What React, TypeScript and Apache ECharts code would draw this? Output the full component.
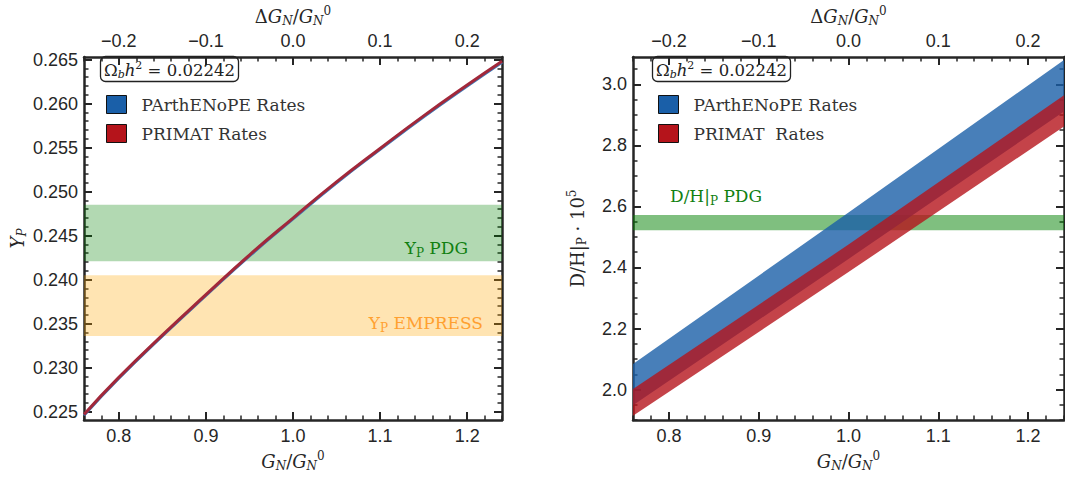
import React, { useEffect, useRef } from 'react';
import * as echarts from 'echarts';

// ---------- data ----------
const gRatio = [0.76, 0.8, 0.85, 0.9, 0.95, 1.0, 1.05, 1.1, 1.15, 1.2, 1.24];
const ypPrimat = [0.2247, 0.2289, 0.2337, 0.2383, 0.2428, 0.247, 0.2511, 0.2549, 0.2586, 0.2621, 0.2648];
const ypParthenope = [0.2246, 0.2288, 0.2336, 0.2382, 0.2427, 0.2469, 0.251, 0.2548, 0.2585, 0.262, 0.2647];

const ypPdgBand = [0.2421, 0.2485];
const ypEmpressBand = [0.2336, 0.2405];
const dhPdgBand = [2.522, 2.572];

const gBand = [0.76, 1.0, 1.24];
const dhParthLow = [1.949, 2.428, 2.911];
const dhParthHigh = [2.084, 2.58, 3.08];
const dhPrimatLow = [1.914, 2.385, 2.862];
const dhPrimatHigh = [2.002, 2.475, 2.964];

const xTicks = [0.8, 0.9, 1.0, 1.1, 1.2];
const xTickLabels = ['0.8', '0.9', '1.0', '1.1', '1.2'];
const dTicks = [-0.2, -0.1, 0, 0.1, 0.2];
const dTickLabels = ['\u22120.2', '\u22120.1', '0.0', '0.1', '0.2'];
const ypTicks = [0.225, 0.23, 0.235, 0.24, 0.245, 0.25, 0.255, 0.26, 0.265];
const ypTickLabels = ['0.225', '0.230', '0.235', '0.240', '0.245', '0.250', '0.255', '0.260', '0.265'];
const dhTicks = [2.0, 2.2, 2.4, 2.6, 2.8, 3.0];
const dhTickLabels = ['2.0', '2.2', '2.4', '2.6', '2.8', '3.0'];

const omegaText = '0.02242';

// ---------- styling ----------
const AX = '#262626';
const SANS = "'Liberation Sans', Arial, sans-serif";
const SERIF = "'DejaVu Serif', serif";
const BLUE_SOLID = '#1a5fa8';
const RED_SOLID = '#b5141b';
const GREEN_TXT = '#118011';
const ORANGE_TXT = '#ffa030';

function steps(from: number, to: number, step: number): number[] {
  const out: number[] = [];
  const n = Math.round((to - from) / step);
  for (let i = 0; i <= n; i++) out.push(Number((from + i * step).toFixed(6)));
  return out;
}

const labelFor = (ticks: number[], labels: string[]) => (v: number) => {
  const i = ticks.findIndex((t) => Math.abs(t - v) < 1e-7);
  return i >= 0 ? labels[i] : '';
};

const mathRich = (size: number, color: string) => {
  const small = Math.round(size * 0.68);
  return {
    i: { fontFamily: SERIF, fontStyle: 'italic', fontWeight: 'normal', fontSize: size, color, lineHeight: 22 },
    r: { fontFamily: SERIF, fontWeight: 'normal', fontSize: size, color, lineHeight: 22 },
    s: { fontFamily: SERIF, fontStyle: 'italic', fontWeight: 'normal', fontSize: small, color, lineHeight: 12, verticalAlign: 'bottom' },
    su: { fontFamily: SERIF, fontWeight: 'normal', fontSize: small, color, lineHeight: 12, verticalAlign: 'bottom' },
    p: { fontFamily: SERIF, fontWeight: 'normal', fontSize: small, color, lineHeight: 12, verticalAlign: 'top' },
  };
};

const G_NAME = '{i|G}{s|N}{r|/}{i|G}{s|N}{p|0}';
const DG_NAME = '{r|\u0394}{i|G}{s|N}{r|/}{i|G}{s|N}{p|0}';
const YP_NAME = '{i|Y}{s|P}';
const DH_NAME = '{r|D/H|}{su|P}{r| \u00b7 10}{p|5}';

function xPair(grid: number, pos: string, min: number, max: number, ticks: number[], labels: string[], minor: number[], name: string, nameGap: number) {
  return [
    {
      type: 'value', gridIndex: grid, position: pos, min, max,
      name, nameLocation: 'middle', nameGap,
      nameTextStyle: { rich: mathRich(18, AX) },
      axisLine: { show: true, onZero: false, lineStyle: { color: AX, width: 2.5 } },
      axisTick: { show: true, inside: true, length: 8, lineStyle: { color: AX, width: 2 }, customValues: ticks },
      axisLabel: { show: true, customValues: ticks, formatter: labelFor(ticks, labels), margin: 7, color: AX, fontFamily: SANS, fontSize: 18 },
      splitLine: { show: false },
    },
    {
      type: 'value', gridIndex: grid, position: pos, min, max,
      axisLine: { show: false, onZero: false },
      axisTick: { show: true, inside: true, length: 4.5, lineStyle: { color: AX, width: 1.5 }, customValues: minor },
      axisLabel: { show: false },
      splitLine: { show: false },
    },
  ];
}

function yPair(grid: number, pos: string, min: number, max: number, ticks: number[], labels: string[] | null, minor: number[], name: string, nameGap: number) {
  return [
    {
      type: 'value', gridIndex: grid, position: pos, min, max,
      name, nameLocation: 'middle', nameGap,
      nameTextStyle: { rich: mathRich(18, AX) },
      axisLine: { show: true, onZero: false, lineStyle: { color: AX, width: 2.5 } },
      axisTick: { show: true, inside: true, length: 8, lineStyle: { color: AX, width: 2 }, customValues: ticks },
      axisLabel: labels
        ? { show: true, customValues: ticks, formatter: labelFor(ticks, labels), margin: 6, color: AX, fontFamily: SANS, fontSize: 18 }
        : { show: false },
      splitLine: { show: false },
    },
    {
      type: 'value', gridIndex: grid, position: pos, min, max,
      axisLine: { show: false, onZero: false },
      axisTick: { show: true, inside: true, length: 4.5, lineStyle: { color: AX, width: 1.5 }, customValues: minor },
      axisLabel: { show: false },
      splitLine: { show: false },
    },
  ];
}

const bandRender = (lo: number[], hi: number[], fill: string) => (_params: any, api: any) => {
  const top = gBand.map((x, i) => api.coord([x, hi[i]]));
  const bot = gBand.map((x, i) => api.coord([x, lo[i]])).reverse();
  return { type: 'polygon', shape: { points: top.concat(bot) }, style: { fill }, silent: true };
};

const legendText = { fontFamily: SERIF, fontSize: 17, color: '#333', padding: [0, 0, 0, 10] };

const boxTitle = (left: number) => ({
  text: '{o|\u03a9}{s|b}{i|h}{p|2}{o| = ' + omegaText + '}',
  left, top: 56,
  borderColor: '#222', borderWidth: 1.3, borderRadius: 5,
  padding: [4, 4, 2, 4],
  textStyle: {
    fontWeight: 'normal',
    rich: {
      o: { fontFamily: SERIF, fontWeight: 'normal', fontSize: 16.5, color: '#222', lineHeight: 20 },
      i: { fontFamily: SERIF, fontStyle: 'italic', fontWeight: 'normal', fontSize: 16.5, color: '#222', lineHeight: 20 },
      s: { fontFamily: SERIF, fontStyle: 'italic', fontWeight: 'normal', fontSize: 11, color: '#222', lineHeight: 11, verticalAlign: 'bottom' },
      p: { fontFamily: SERIF, fontWeight: 'normal', fontSize: 11, color: '#222', lineHeight: 11, verticalAlign: 'top' },
    },
  },
});

function buildOption() {
  const minorG = steps(0.76, 1.24, 0.02);
  const minorD = steps(-0.24, 0.24, 0.02);
  const minorYp = steps(0.225, 0.265, 0.001);
  const minorDh = steps(1.9, 3.05, 0.05);

  const xAxis = [
    ...xPair(0, 'bottom', 0.76, 1.24, xTicks, xTickLabels, minorG, G_NAME, 28),
    ...xPair(0, 'top', -0.24, 0.24, dTicks, dTickLabels, minorD, DG_NAME, 22),
    ...xPair(1, 'bottom', 0.76, 1.24, xTicks, xTickLabels, minorG, G_NAME, 28),
    ...xPair(1, 'top', -0.24, 0.24, dTicks, dTickLabels, minorD, DG_NAME, 22),
  ];
  const yAxis = [
    ...yPair(0, 'left', 0.22405, 0.2653, ypTicks, ypTickLabels, minorYp, YP_NAME, 56),
    ...yPair(0, 'right', 0.22405, 0.2653, ypTicks, null, minorYp, '', 0),
    ...yPair(1, 'left', 1.9, 3.09, dhTicks, dhTickLabels, minorDh, DH_NAME, 45),
    ...yPair(1, 'right', 1.9, 3.09, dhTicks, null, minorDh, '', 0),
  ];

  const ypPdgLabel = {
    show: true, position: 'insideBottomRight', offset: [-29, 3],
    formatter: '{r|Y}{su|P}{r| PDG}', rich: mathRich(17, GREEN_TXT),
  };
  const ypEmpLabel = {
    show: true, position: 'insideBottomRight', offset: [-14, 3],
    formatter: '{r|Y}{su|P}{r| EMPRESS}', rich: mathRich(17, ORANGE_TXT),
  };
  const dhPdgLabel = {
    show: true, position: [37, -8], align: 'left', verticalAlign: 'bottom',
    formatter: '{r|D/H|}{su|P}{r| PDG}', rich: mathRich(17, GREEN_TXT),
  };

  return {
    animation: false,
    backgroundColor: '#ffffff',
    grid: [
      { left: 84, top: 45, width: 418, height: 377 },
      { left: 633, top: 45, width: 431, height: 377 },
    ],
    title: [boxTitle(100), boxTitle(652)],
    legend: [
      {
        left: 101, top: 90, orient: 'vertical', icon: 'rect', itemWidth: 20, itemHeight: 18, itemGap: 10,
        selectedMode: false, textStyle: legendText,
        data: [
          { name: 'PArthENoPE Rates', itemStyle: { color: BLUE_SOLID, borderColor: '#111', borderWidth: 1 } },
          { name: 'PRIMAT Rates', itemStyle: { color: RED_SOLID, borderColor: '#111', borderWidth: 1 } },
        ],
      },
      {
        left: 653, top: 90, orient: 'vertical', icon: 'rect', itemWidth: 20, itemHeight: 18, itemGap: 10,
        selectedMode: false, textStyle: legendText,
        data: [
          { name: 'PArthENoPE Rates', itemStyle: { color: BLUE_SOLID, borderColor: '#111', borderWidth: 1 } },
          { name: 'PRIMAT  Rates', itemStyle: { color: RED_SOLID, borderColor: '#111', borderWidth: 1 } },
        ],
      },
    ],
    xAxis,
    yAxis,
    series: [
      {
        type: 'line', name: 'PArthENoPE Rates', xAxisIndex: 0, yAxisIndex: 0,
        data: gRatio.map((g, i) => [g, ypParthenope[i]]),
        symbol: 'none', showSymbol: false, smooth: true, z: 3,
        lineStyle: { color: '#3d79b7', width: 3 },
        markArea: {
          silent: true,
          data: [
            [
              { yAxis: ypPdgBand[0], itemStyle: { color: 'rgba(0,128,0,0.3)', borderWidth: 0 }, label: ypPdgLabel },
              { yAxis: ypPdgBand[1] },
            ],
            [
              { yAxis: ypEmpressBand[0], itemStyle: { color: 'rgba(255,165,0,0.3)', borderWidth: 0 }, label: ypEmpLabel },
              { yAxis: ypEmpressBand[1] },
            ],
          ],
        },
      },
      {
        type: 'line', name: 'PRIMAT Rates', xAxisIndex: 0, yAxisIndex: 0,
        data: gRatio.map((g, i) => [g, ypPrimat[i]]),
        symbol: 'none', showSymbol: false, smooth: true, z: 4,
        lineStyle: { color: '#a2283a', width: 3 },
      },
      {
        type: 'line', name: 'D/H PDG', xAxisIndex: 4, yAxisIndex: 4,
        data: [[gBand[0], dhPdgBand[0]], [gBand[gBand.length - 1], dhPdgBand[0]]],
        symbol: 'none', showSymbol: false, silent: true,
        lineStyle: { opacity: 0 },
        markArea: {
          silent: true,
          data: [
            [
              { yAxis: dhPdgBand[0], itemStyle: { color: 'rgba(0,128,0,0.5)', borderWidth: 0 }, label: dhPdgLabel },
              { yAxis: dhPdgBand[1] },
            ],
          ],
        },
      },
      {
        type: 'custom', name: 'PArthENoPE Rates', xAxisIndex: 4, yAxisIndex: 4,
        data: [[gBand[0], dhParthLow[0]]], silent: true, z: 3,
        renderItem: bandRender(dhParthLow, dhParthHigh, 'rgba(26,95,168,0.8)'),
      },
      {
        type: 'custom', name: 'PRIMAT  Rates', xAxisIndex: 4, yAxisIndex: 4,
        data: [[gBand[0], dhPrimatLow[0]]], silent: true, z: 4,
        renderItem: bandRender(dhPrimatLow, dhPrimatHigh, 'rgba(181,20,27,0.8)'),
      },
    ],
  };
}

export default function App() {
  const ref = useRef<HTMLDivElement>(null);
  useEffect(() => {
    if (!ref.current) return;
    const chart = echarts.init(ref.current, undefined, { renderer: 'svg' });
    chart.setOption(buildOption() as any);
    return () => chart.dispose();
  }, []);
  return (
    <div
      ref={ref}
      style={{ position: 'absolute', left: 0, top: 0, width: 1065, height: 477, background: '#fff' }}
    />
  );
}
